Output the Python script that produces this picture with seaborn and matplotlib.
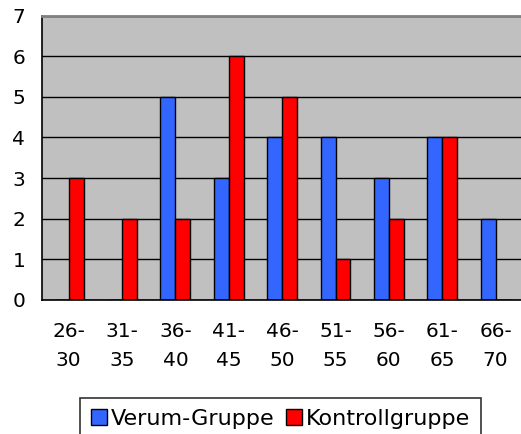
import numpy as np
import pandas as pd
import matplotlib
matplotlib.use("Agg")
import matplotlib.pyplot as plt
import seaborn as sns

# Altersgruppen und Häufigkeiten
age_groups = ["26-\n30", "31-\n35", "36-\n40", "41-\n45", "46-\n50",
              "51-\n55", "56-\n60", "61-\n65", "66-\n70"]
verum = [0, 0, 5, 3, 4, 4, 3, 4, 2]
kontroll = [3, 2, 2, 6, 5, 1, 2, 4, 0]
groups = ["Verum-Gruppe", "Kontrollgruppe"]
colors = ["#3366FF", "#FF0000"]

df = pd.DataFrame({
    "Alter": age_groups * 2,
    "Anzahl": verum + kontroll,
    "Gruppe": [groups[0]] * len(age_groups) + [groups[1]] * len(age_groups),
})

sns.set_style("white")
plt.rcParams["font.family"] = ["DejaVu Sans"]
for key in ["text.color", "xtick.color", "ytick.color", "axes.labelcolor"]:
    plt.rcParams[key] = "black"

fig = plt.figure(figsize=(5.21, 4.34), dpi=100)
ax = fig.add_axes([0.0806, 0.309, 0.922, 0.655])
ax.set_facecolor("#C0C0C0")

sns.barplot(data=df, x="Alter", y="Anzahl", hue="Gruppe", palette=colors,
            saturation=1, width=0.56, edgecolor="black", linewidth=1.0,
            ax=ax, legend=True)

ax.set_ylim(0, 7)
ax.set_xlim(-0.5, len(age_groups) - 0.5)
ax.set_yticks(range(0, 8))
ax.yaxis.grid(True, color="black", linewidth=1.0)
ax.set_axisbelow(True)

ax.set_xlabel("")
ax.set_ylabel("")

# Tick-Striche an den Kategoriegrenzen
ax.set_xticks(np.arange(-0.5, len(age_groups), 1.0), minor=True)
ax.tick_params(axis="x", which="minor", direction="out", length=6, width=1.2, color="black")
ax.tick_params(axis="x", which="major", length=0, pad=16, labelsize=14.5)
ax.tick_params(axis="y", direction="out", length=6, width=1.2, color="black",
               labelsize=14.5, pad=6)
for lbl in ax.get_xticklabels():
    lbl.set_linespacing(1.67)

for side in ["left", "bottom"]:
    ax.spines[side].set_color("black")
    ax.spines[side].set_linewidth(1.2)
ax.spines["top"].set_color("#808080")
ax.spines["top"].set_linewidth(2.0)
ax.spines["right"].set_visible(False)

handles, labels = ax.get_legend_handles_labels()
ax.legend_.remove()
leg = fig.legend(handles, labels, loc="upper center", bbox_to_anchor=(0.538, 0.083),
                 ncol=2, fontsize=16, frameon=True, fancybox=False,
                 edgecolor="black", handlelength=0.72, handleheight=0.72,
                 handletextpad=0.18, columnspacing=0.5, borderpad=0.5,
                 borderaxespad=0)
leg.get_frame().set_linewidth(1.2)

fig.savefig("out.png", dpi=100)
